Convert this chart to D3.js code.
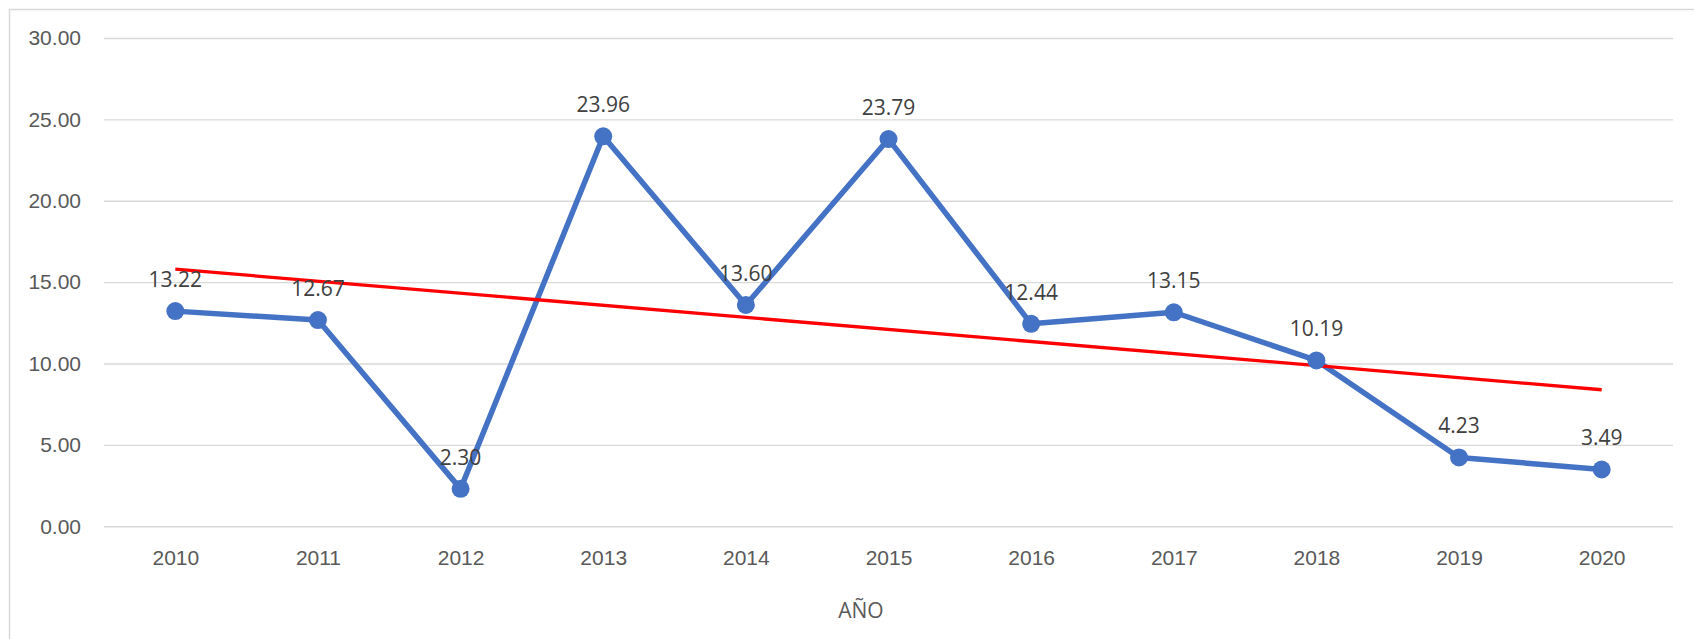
<!DOCTYPE html>
<html>
<head>
<meta charset="utf-8">
<script src="https://cdn.jsdelivr.net/npm/d3@7"></script>
<style>
  html, body { margin: 0; padding: 0; background: #fff; }
  svg { display: block; font-family: "Open Sans", "Noto Sans", sans-serif; }
</style>
</head>
<body>
<svg id="chart" width="1694" height="639"></svg>
<script>
const years = ["2010","2011","2012","2013","2014","2015","2016","2017","2018","2019","2020"];
const values = [13.22, 12.67, 2.30, 23.96, 13.60, 23.79, 12.44, 13.15, 10.19, 4.23, 3.49];
const yTicks = [0, 5, 10, 15, 20, 25, 30];
const xTitle = "AÑO";

const svg = d3.select("#chart");
const W = 1694, H = 639;
const plot = { left: 104, right: 1673, top: 38, bottom: 526.3 };

// chart area border
svg.append("rect")
  .attr("x", 9.5).attr("y", 9.5)
  .attr("width", W + 20).attr("height", H + 20)
  .attr("fill", "#fff").attr("stroke", "#d9d9d9").attr("stroke-width", 1.5);

const x = d3.scalePoint().domain(years).range([plot.left, plot.right]).padding(0.5);
const y = d3.scaleLinear().domain([0, 30]).range([plot.bottom, plot.top]);

// y axis with gridlines
const yAxis = svg.append("g")
  .attr("transform", `translate(${plot.left},0)`)
  .call(d3.axisLeft(y).tickValues(yTicks).tickFormat(d3.format(".2f"))
    .tickSize(-(plot.right - plot.left)).tickPadding(23));
yAxis.select(".domain").remove();
yAxis.selectAll(".tick line").attr("stroke", "#d9d9d9").attr("stroke-width", 1.4);
yAxis.selectAll(".tick text").attr("fill", "#595959").attr("font-size", 21);

// x axis
const xAxis = svg.append("g")
  .attr("transform", `translate(0,${plot.bottom})`)
  .call(d3.axisBottom(x).tickSize(0).tickPadding(24));
xAxis.select(".domain").remove();
xAxis.selectAll(".tick text").attr("fill", "#595959").attr("font-size", 21);

// axis title
svg.append("text")
  .attr("x", 861).attr("y", 618)
  .attr("text-anchor", "middle")
  .attr("fill", "#595959").attr("font-size", 21)
  .text(xTitle);

const data = years.map((yr, i) => ({ year: yr, value: values[i] }));

// series line
svg.append("path")
  .datum(data)
  .attr("fill", "none")
  .attr("stroke", "#4472c4")
  .attr("stroke-width", 5.5)
  .attr("stroke-linejoin", "round")
  .attr("d", d3.line().x(d => x(d.year)).y(d => y(d.value)));

// linear trendline (least squares over the series)
const n = values.length;
const idx = values.map((_, i) => i);
const mx = d3.mean(idx), my = d3.mean(values);
const slope = d3.sum(idx, i => (i - mx) * (values[i] - my)) / d3.sum(idx, i => (i - mx) ** 2);
const intercept = my - slope * mx;
const trend = [0, n - 1].map(i => ({ year: years[i], value: intercept + slope * i }));
svg.append("path")
  .datum(trend)
  .attr("fill", "none")
  .attr("stroke", "#ff0000")
  .attr("stroke-width", 3.3)
  .attr("d", d3.line().x(d => x(d.year)).y(d => y(d.value)));

// markers
svg.selectAll("circle.pt")
  .data(data).enter().append("circle")
  .attr("class", "pt")
  .attr("cx", d => x(d.year)).attr("cy", d => y(d.value))
  .attr("r", 9)
  .attr("fill", "#4472c4");

// data labels
svg.selectAll("text.lbl")
  .data(data).enter().append("text")
  .attr("class", "lbl")
  .attr("x", d => x(d.year)).attr("y", d => y(d.value) - 24)
  .attr("text-anchor", "middle")
  .attr("fill", "#404040").attr("font-size", 21)
  .text(d => d.value.toFixed(2));
</script>
</body>
</html>
